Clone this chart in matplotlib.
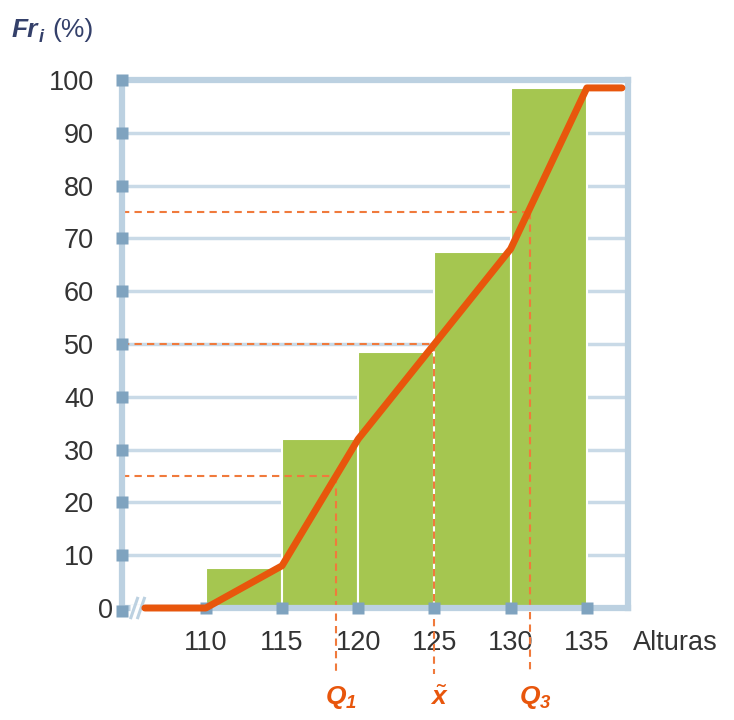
import matplotlib
matplotlib.use("Agg")
import matplotlib.pyplot as plt

# ---- data ----
class_edges = [110, 115, 120, 125, 130, 135]
bar_heights = [7.5, 32, 48.5, 67.5, 98.5]
ogive_x = [106, 110, 115, 120, 125, 130, 135, 137.3]
ogive_y = [0, 0, 8, 32, 50, 68, 98.5, 98.5]
y_ticks = [10, 20, 30, 40, 50, 60, 70, 80, 90, 100]
x_ticks = [110, 115, 120, 125, 130, 135]
quartile_levels = [25, 50, 75]
quartile_values = [118.55, 125, 131.25]
quartile_labels = [r"$\mathbf{Q}_{\mathbf{1}}$", r"$\tilde{\mathbf{x}}$", r"$\mathbf{Q}_{\mathbf{3}}$"]

BLUE_SPINE = "#bcd1e1"
BLUE_GRID = "#c9dae7"
BLUE_TICK = "#7fa3bf"
GREEN = "#a5c650"
ORANGE = "#e8560c"
ORANGE_D = "#f07a3c"
TXT = "#333333"
NAVY = "#34406a"

plt.rcParams['font.family'] = ['Liberation Sans', 'DejaVu Sans']
plt.rcParams['mathtext.fontset'] = 'custom'
plt.rcParams['mathtext.rm'] = 'Liberation Sans'
plt.rcParams['mathtext.it'] = 'Liberation Sans:italic'
plt.rcParams['mathtext.bf'] = 'Liberation Sans:italic:bold'

fig = plt.figure(figsize=(7.34, 7.2), dpi=100)
ax = fig.add_axes([122/734, 112/720, 506/734, 528/720])
ax.set_xlim(104.5, 137.7)
ax.set_ylim(0, 100)

# grid
for yv in y_ticks[:-1]:
    ax.axhline(yv, color=BLUE_GRID, lw=2.5, zorder=1)

# bars
lefts = class_edges[:-1]
widths = [b - a for a, b in zip(class_edges[:-1], class_edges[1:])]
ax.bar(lefts, bar_heights, width=widths, align='edge', color=GREEN,
       edgecolor='white', linewidth=1.5, zorder=2)

# dashed quartile guides
for lvl, q in zip(quartile_levels, quartile_values):
    ax.plot([104.5, q], [lvl, lvl], color=ORANGE_D, lw=1.5, dashes=(3.5, 2.5), zorder=3)
    ax.plot([q, q], [lvl, -12.5], color=ORANGE_D, lw=1.5, dashes=(3.5, 2.5),
            zorder=3, clip_on=False)

# spines
for s in ax.spines.values():
    s.set_color(BLUE_SPINE)
    s.set_linewidth(4.5)
    s.set_zorder(3.5)

# ticks
ax.set_xticks(x_ticks)
ax.set_xticklabels([str(v) for v in x_ticks])
ax.set_yticks(y_ticks)
ax.set_yticklabels([str(v) for v in y_ticks])
ax.tick_params(length=0, labelsize=19.5, colors=TXT)
ax.tick_params(axis='x', pad=16)
ax.tick_params(axis='y', pad=20)

# axis break: white gap over the bottom spine, then two slashes
ax.plot([105.0, 107.0], [0, 0], color='white', lw=5, clip_on=False,
        zorder=4.1, solid_capstyle='butt')
for dx in (0.0, 0.45):
    ax.plot([105.05 + dx, 105.55 + dx], [-2.1, 2.1], color=BLUE_SPINE, lw=2.2,
            clip_on=False, zorder=4.3, solid_capstyle='butt')

# tick squares
ax.plot([104.5] * (len(y_ticks) + 1), [-0.5] + y_ticks, 's', ms=8.5, color=BLUE_TICK,
        clip_on=False, zorder=4, mec='none')
ax.plot(x_ticks, [0] * len(x_ticks), 's', ms=8.5, color=BLUE_TICK,
        clip_on=False, zorder=4, mec='none')

# ogive
ax.plot(ogive_x, ogive_y, color=ORANGE, lw=5, zorder=5, clip_on=False,
        solid_capstyle='round', solid_joinstyle='round')

# labels
ax.text(103.4, -0.5, "0", fontsize=19.5, color=TXT, ha='center', va='center', clip_on=False)
ax.text(138.0, -6.6, "Alturas", fontsize=19.5, color=TXT, ha='left', va='center', clip_on=False)

fig.text(12/734, 1 - 30/720, "Fr", fontsize=19, color=NAVY, style='italic',
         fontweight='bold', ha='left', va='center')
fig.text(39/734, 1 - 38/720, "i", fontsize=13, color=NAVY, style='italic',
         fontweight='bold', ha='left', va='center')
fig.text(52/734, 1 - 30/720, "(%)", fontsize=19, color=NAVY, ha='left', va='center')

# quartile labels
for q, lab in zip(quartile_values, quartile_labels):
    ax.text(q + 0.35, -17.0, lab, fontsize=19, color=ORANGE, ha='center',
            va='center', clip_on=False)

fig.savefig("out.png", dpi=100, facecolor='white')
